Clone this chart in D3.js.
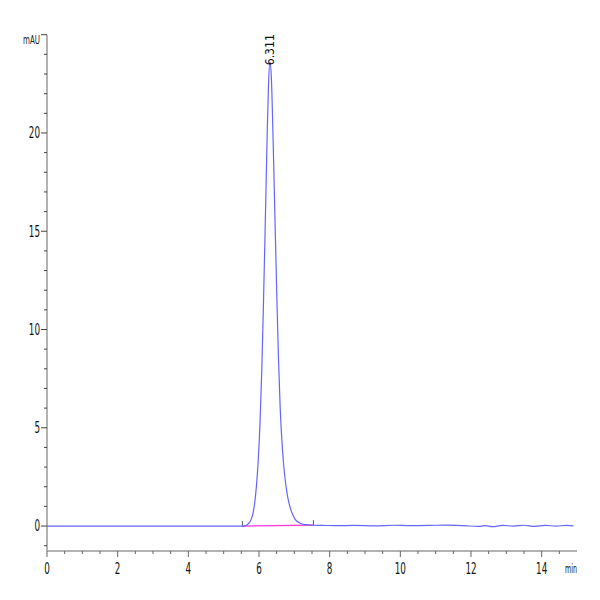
<!DOCTYPE html>
<html>
  <head>
    <meta charset="utf-8" />
    <style>
      body { margin: 0; background: #fff; }
      text { font-family: "Liberation Sans Narrow", "DejaVu Sans Condensed", "Liberation Sans", sans-serif; }
    </style>
    <script src="https://cdn.jsdelivr.net/npm/d3@7"></script>
  </head>
  <body>
    <div id="container"></div>
    <script>
      // chromatogram trace (min, mAU)
      const times = [0, 1, 2, 3, 4, 5, 5.5, 5.6, 5.7, 5.77, 5.83, 5.88, 5.93, 5.98, 6.03, 6.08, 6.13, 6.18, 6.23, 6.27, 6.311,
        6.35, 6.4, 6.45, 6.5, 6.55, 6.6, 6.66, 6.72, 6.8, 6.88, 6.95, 7.02, 7.15, 7.3, 7.5, 7.8, 8.2, 8.7, 9.3, 9.8, 10.3,
        10.8, 11.3, 11.8, 12.2, 12.4, 12.6, 12.9, 13.2, 13.5, 13.8, 14.1, 14.4, 14.7, 14.9];
      const mAU = [0, 0, 0, 0, 0, 0, 0, 0.01, 0.12, 0.3, 0.65, 1.2, 2.1, 3.4, 5.3, 8.0, 11.6, 15.6, 19.8, 22.5, 23.6,
        22.8, 19.6, 15.8, 12.0, 8.6, 6.0, 4.0, 2.7, 1.6, 0.95, 0.6, 0.35, 0.16, 0.07, 0.04, 0.03, 0.02, 0.03, 0.01, 0.04, 0.02,
        0.03, 0.05, 0.02, -0.02, 0.02, -0.03, 0.03, 0.0, 0.04, -0.02, 0.03, 0.0, 0.03, 0.01];
      // integration baseline and peak label
      const baseT = [5.53, 7.54];
      const baseV = [0, 0.05];
      const peakT = 6.311, peakV = 23.6, peakLabel = "6.311";
      const xTicks = [0, 2, 4, 6, 8, 10, 12, 14];
      const yTicks = [0, 5, 10, 15, 20];

      const W = 600, H = 600;
      const svg = d3.select("#container").append("svg")
        .attr("width", W).attr("height", H);

      const x = d3.scaleLinear().domain([0, 15]).range([47, 577]);
      const y = d3.scaleLinear().domain([-1.27, 25]).range([551, 34.7]);

      const axisColor = "#999";
      // narrow labels, like the instrument software's condensed font
      const narrow = s => String(s).length * 5.6;

      // x axis
      const xMinor = d3.range(0, 15, 0.5);
      const xg = svg.append("g").attr("transform", `translate(0,${y(-1.27)})`);
      xg.append("line").attr("x1", x(0)).attr("x2", x(15))
        .attr("stroke", axisColor).attr("stroke-width", 1.5);
      xg.selectAll(".mn").data(xMinor).enter().append("line")
        .attr("x1", d => x(d)).attr("x2", d => x(d))
        .attr("y1", 0).attr("y2", d => (d % 2 === 0 ? 6 : 3))
        .attr("stroke", "#666").attr("stroke-width", 1);
      xg.selectAll(".lb").data(xTicks).enter().append("text")
        .attr("x", d => x(d)).attr("y", 23)
        .attr("text-anchor", "middle").attr("font-size", 15)
        .attr("textLength", d => narrow(d)).attr("lengthAdjust", "spacingAndGlyphs")
        .attr("fill", "#111").text(d => d);
      xg.append("text").attr("x", 571).attr("y", 22)
        .attr("text-anchor", "middle").attr("font-size", 13)
        .attr("textLength", 12).attr("lengthAdjust", "spacingAndGlyphs")
        .attr("fill", "#111").text("min");

      // y axis
      const yMinor = d3.range(-1, 26, 1);
      const yg = svg.append("g").attr("transform", `translate(${x(0)},0)`);
      yg.append("line").attr("y1", y(-1.27)).attr("y2", y(25))
        .attr("stroke", axisColor).attr("stroke-width", 1.5);
      yg.selectAll(".mn").data(yMinor).enter().append("line")
        .attr("y1", d => y(d)).attr("y2", d => y(d))
        .attr("x1", 0).attr("x2", d => (d % 5 === 0 ? -6 : -3))
        .attr("stroke", "#444").attr("stroke-width", 1);
      yg.selectAll(".lb").data(yTicks).enter().append("text")
        .attr("x", -7).attr("y", d => y(d)).attr("dy", "0.36em")
        .attr("text-anchor", "end").attr("font-size", 15)
        .attr("textLength", d => narrow(d)).attr("lengthAdjust", "spacingAndGlyphs")
        .attr("fill", "#111").text(d => d);
      yg.append("text").attr("x", -7).attr("y", y(25)).attr("dy", "0.75em")
        .attr("text-anchor", "end").attr("font-size", 13)
        .attr("textLength", 17).attr("lengthAdjust", "spacingAndGlyphs")
        .attr("fill", "#222").text("mAU");

      // integration baseline
      svg.append("line")
        .attr("x1", x(baseT[0])).attr("y1", y(baseV[0]))
        .attr("x2", x(baseT[1])).attr("y2", y(baseV[1]))
        .attr("stroke", "#ff33dd").attr("stroke-width", 1.3);
      svg.selectAll(".bt").data(baseT).enter().append("line")
        .attr("x1", d => x(d)).attr("x2", d => x(d))
        .attr("y1", (d, i) => y(baseV[i])).attr("y2", (d, i) => y(baseV[i]) - 5)
        .attr("stroke", "#333").attr("stroke-width", 0.8);

      // trace
      const pts = times.map((t, i) => [t, mAU[i]]);
      svg.append("path").datum(pts)
        .attr("fill", "none").attr("stroke", "#6464ff").attr("stroke-width", 1.2)
        .attr("d", d3.line().x(d => x(d[0])).y(d => y(d[1])).curve(d3.curveMonotoneX));

      // peak label
      svg.append("text")
        .attr("transform", `translate(${x(peakT) + 4},${y(peakV) + 3}) rotate(-90)`)
        .attr("font-size", 12).attr("fill", "#111")
        .attr("textLength", 31).attr("lengthAdjust", "spacingAndGlyphs")
        .text(peakLabel);
    </script>
  </body>
</html>
